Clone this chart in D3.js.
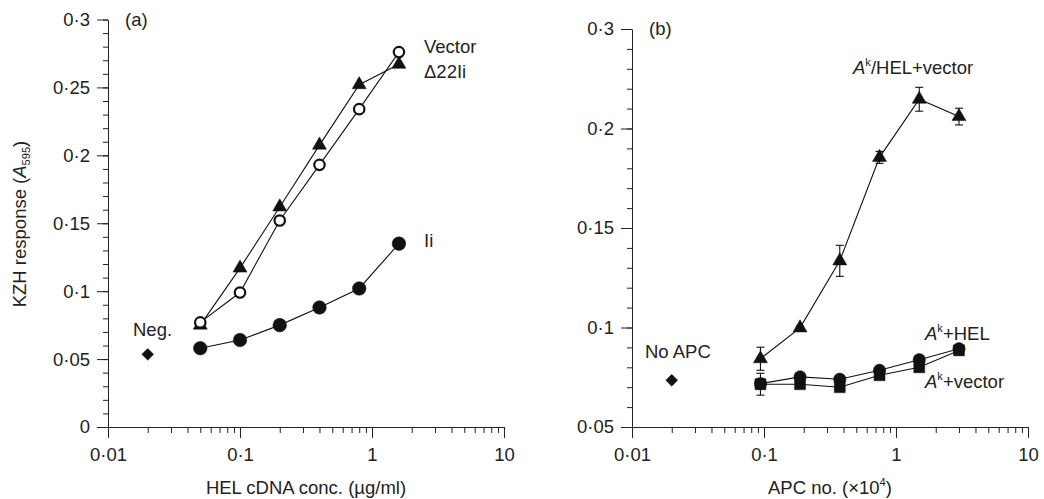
<!DOCTYPE html>
<html>
<head>
<meta charset="utf-8">
<script src="https://cdn.jsdelivr.net/npm/d3@7"></script>
<style>
  body { margin: 0; background: #fff; }
  svg { font-family: "Liberation Sans", Arial, sans-serif; }
  text { fill: #222; }
</style>
</head>
<body>
<svg id="chart" width="1044" height="499"></svg>
<script>
// panel (a)
const concA = [0.05, 0.1, 0.2, 0.4, 0.8, 1.6];
const vectorA = [0.077, 0.099, 0.152, 0.193, 0.234, 0.276];
const delta22A = [0.075, 0.117, 0.162, 0.2075, 0.252, 0.267];
const iiA = [0.058, 0.064, 0.075, 0.088, 0.102, 0.135];
const negA = [{ x: 0.02, y: 0.0535 }];
const yTicksA = [0, 0.05, 0.1, 0.15, 0.2, 0.25, 0.3];
const yLabelsA = ["0", "0·05", "0·1", "0·15", "0·2", "0·25", "0·3"];

// panel (b)
const apcNo = [0.094, 0.1875, 0.375, 0.75, 1.5, 3];
const akHelVector = [0.0843, 0.0998, 0.1335, 0.1855, 0.2147, 0.206];
const akHelVectorErr = [0.0058, 0.001, 0.0078, 0.003, 0.006, 0.0042];
const akHel = [0.0718, 0.0752, 0.074, 0.0785, 0.0838, 0.0893];
const akHelErr = [0.001, 0.001, 0.001, 0.001, 0.001, 0.001];
const akVector = [0.0715, 0.0715, 0.070, 0.076, 0.080, 0.0885];
const akVectorErr = [0.0055, 0.001, 0.001, 0.001, 0.001, 0.001];
const noApc = [{ x: 0.02, y: 0.0735 }];
const yTicksB = [0.05, 0.1, 0.15, 0.2, 0.25];
const yLabelsB = ["0·05", "0·1", "0·15", "0·2", "0·3"];

const xTicks = [0.01, 0.1, 1, 10];
const xLabels = ["0·01", "0·1", "1", "10"];

const svg = d3.select("#chart");
const fontSize = 18.5;

// square turned 45 degrees, as in the print
const diamond = {
  draw(ctx, size) {
    const r = Math.sqrt(size / 2);
    ctx.moveTo(0, -r); ctx.lineTo(r, 0); ctx.lineTo(0, r); ctx.lineTo(-r, 0); ctx.closePath();
  }
};

function makePanel(opts) {
  const x = d3.scaleLog().domain([0.01, 10]).range([opts.left, opts.left + 396]);
  const y = d3.scaleLinear().domain(opts.yDomain).range([427, opts.top]);
  const g = svg.append("g");

  // y axis
  const yMinor = d3.range(Math.round(opts.yDomain[0] * 100), Math.round(opts.yDomain[1] * 100) + 1).map(v => v / 100);
  g.append("g")
    .attr("transform", `translate(${opts.left},0)`)
    .call(d3.axisLeft(y).tickValues(yMinor).tickSize(5).tickFormat(""))
    .call(a => a.select(".domain").remove());
  g.append("g")
    .attr("transform", `translate(${opts.left},0)`)
    .call(d3.axisLeft(y).tickValues(opts.yTicks).tickSize(11).tickSizeOuter(0)
      .tickFormat((d, i) => opts.yLabels[i]))
    .call(a => a.selectAll("text").attr("font-size", fontSize).attr("fill", "#222").attr("dx", -4));

  // x axis
  const xMinor = [];
  [0.01, 0.1, 1].forEach(dec => d3.range(2, 10).forEach(k => xMinor.push(dec * k)));
  g.append("g")
    .attr("transform", `translate(0,427)`)
    .call(d3.axisBottom(x).tickValues(xMinor).tickSize(6).tickFormat(""))
    .call(a => a.select(".domain").remove());
  g.append("g")
    .attr("transform", `translate(0,427)`)
    .call(d3.axisBottom(x).tickValues(xTicks).tickSize(11).tickSizeOuter(0)
      .tickFormat((d, i) => xLabels[i]))
    .call(a => a.selectAll("text").attr("font-size", fontSize).attr("fill", "#222").attr("dy", "1.1em"));

  g.selectAll(".domain, .tick line").attr("stroke", "#222");

  // x axis title
  const xt = g.append("text")
    .attr("x", opts.left + 198)
    .attr("y", 494)
    .attr("text-anchor", "middle")
    .attr("font-size", fontSize);
  opts.xTitle(xt);

  // panel letter
  g.append("text")
    .attr("x", opts.left + 17)
    .attr("y", opts.top + 6)
    .attr("font-size", fontSize)
    .text(opts.letter);

  return { g, x, y };
}

function addLine(p, xs, ys) {
  const line = d3.line().x(d => p.x(d[0])).y(d => p.y(d[1]));
  p.g.append("path")
    .attr("d", line(d3.zip(xs, ys)))
    .attr("fill", "none")
    .attr("stroke", "#111")
    .attr("stroke-width", 1.1);
}

function addErr(p, xs, ys, errs) {
  const eg = p.g.append("g").attr("stroke", "#111").attr("stroke-width", 1.1);
  d3.zip(xs, ys, errs).forEach(([xv, yv, e]) => {
    const cx = p.x(xv);
    eg.append("line").attr("x1", cx).attr("x2", cx).attr("y1", p.y(yv - e)).attr("y2", p.y(yv + e));
    [yv - e, yv + e].forEach(v => {
      eg.append("line").attr("x1", cx - 4).attr("x2", cx + 4).attr("y1", p.y(v)).attr("y2", p.y(v));
    });
  });
}

function addMarks(p, data, type, size, filled) {
  p.g.append("g").selectAll("path")
    .data(data)
    .join("path")
    .attr("transform", d => `translate(${p.x(d.x)},${p.y(d.y)})`)
    .attr("d", d3.symbol().type(type).size(size))
    .attr("fill", filled ? "#111" : "#fff")
    .attr("stroke", "#111")
    .attr("stroke-width", filled ? 0.5 : 2.2);
}

const pts = (xs, ys) => xs.map((v, i) => ({ x: v, y: ys[i] }));

function richText(sel, parts) {
  parts.forEach(pt => {
    const t = sel.append("tspan").text(pt.t);
    if (pt.italic) t.attr("font-style", "italic");
    if (pt.sup) t.attr("font-size", fontSize * 0.6).attr("dy", -8);
    if (pt.sub) t.attr("font-size", fontSize * 0.6).attr("dy", 4);
    if (pt.reset) t.attr("dy", pt.reset);
  });
}

// ---- panel (a)
const pa = makePanel({
  left: 108, top: 19.5, yDomain: [0, 0.3], yTicks: yTicksA, yLabels: yLabelsA, letter: "(a)",
  xTitle: t => t.text("HEL cDNA conc. (µg/ml)")
});

addLine(pa, concA, delta22A);
addLine(pa, concA, vectorA);
addLine(pa, concA, iiA);
addMarks(pa, pts(concA, iiA), d3.symbolCircle, 145, true);
addMarks(pa, pts(concA, delta22A), d3.symbolTriangle, 85, true);
addMarks(pa, pts(concA, vectorA), d3.symbolCircle, 85, false);
addMarks(pa, negA, diamond, 70, true);

const yTitle = svg.append("text")
  .attr("transform", "translate(26,224) rotate(-90)")
  .attr("text-anchor", "middle")
  .attr("font-size", fontSize);
richText(yTitle, [{ t: "KZH response (" }, { t: "A", italic: true }, { t: "595", sub: true }, { t: ")", reset: -4 }]);

const labA = [
  { t: "Vector", x: 424, y: 53 },
  { t: "Δ22Ii", x: 424, y: 78 },
  { t: "Ii", x: 424, y: 247 },
  { t: "Neg.", x: 133, y: 336 }
];
pa.g.selectAll(".lab").data(labA).join("text")
  .attr("x", d => d.x).attr("y", d => d.y).attr("font-size", fontSize).text(d => d.t);

// ---- panel (b)
const pb = makePanel({
  left: 632, top: 29, yDomain: [0.05, 0.25], yTicks: yTicksB, yLabels: yLabelsB, letter: "(b)",
  xTitle: t => richText(t, [{ t: "APC no. (×10" }, { t: "4", sup: true }, { t: ")", reset: 8 }])
});

addLine(pb, apcNo, akHelVector);
addLine(pb, apcNo, akHel);
addLine(pb, apcNo, akVector);
addErr(pb, apcNo, akHelVector, akHelVectorErr);
addErr(pb, apcNo, akVector, akVectorErr);
addErr(pb, apcNo, akHel, akHelErr);
addMarks(pb, pts(apcNo, akHelVector), d3.symbolTriangle, 85, true);
addMarks(pb, pts(apcNo, akHel), d3.symbolCircle, 120, true);
addMarks(pb, pts(apcNo, akVector), d3.symbolSquare, 120, true);
addMarks(pb, noApc, diamond, 70, true);

const labB = [
  { parts: [{ t: "A", italic: true }, { t: "k", sup: true }, { t: "/HEL+vector", reset: 8 }], x: 853, y: 74 },
  { parts: [{ t: "A", italic: true }, { t: "k", sup: true }, { t: "+HEL", reset: 8 }], x: 925, y: 340 },
  { parts: [{ t: "A", italic: true }, { t: "k", sup: true }, { t: "+vector", reset: 8 }], x: 925, y: 388 },
  { parts: [{ t: "No APC" }], x: 645, y: 358 }
];
labB.forEach(l => {
  const t = pb.g.append("text").attr("x", l.x).attr("y", l.y).attr("font-size", fontSize);
  richText(t, l.parts);
});
</script>
</body>
</html>
